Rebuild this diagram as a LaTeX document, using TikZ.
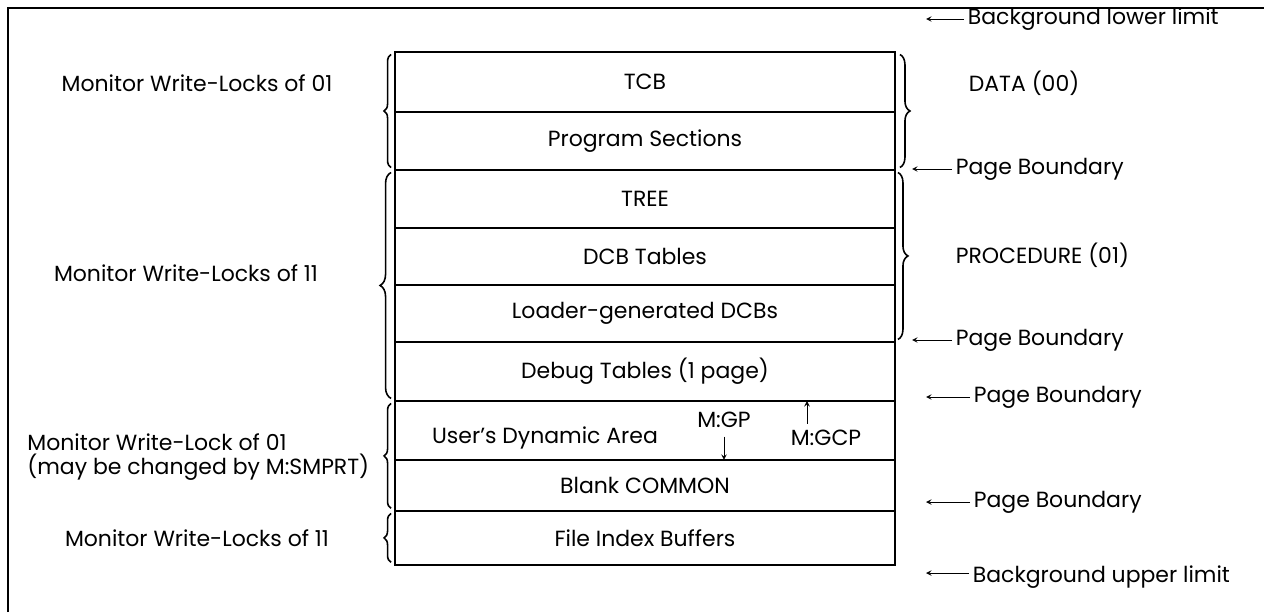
\documentclass[tikz,border=0pt]{standalone}
\usepackage{fontspec}
\setmainfont{Poppins}
\usetikzlibrary{positioning,decorations.pathreplacing}

\begin{document}
\begin{tikzpicture}[x=0.02cm,y=-0.02cm,>=stealth,
    font=\fontsize{12.5}{14}\selectfont,
    cell/.style={draw,line width=1.2pt,minimum width=10cm,inner sep=0pt,outer sep=0pt},
    lbl/.style={inner sep=2pt,anchor=west},
    lbrace/.style={decorate,decoration={brace,amplitude=0.14cm},line width=0.9pt},
    rbrace/.style={decorate,decoration={brace,amplitude=0.2cm},line width=0.9pt}]
  \useasboundingbox (0,0) rectangle (1264,612);
  % frame
  \draw[line width=1.2pt] (8,612) -- (8,8) -- (1264,8);

  % memory layout
  \node[cell,minimum height=1.2cm,anchor=north] (tcb) at (645,52) {TCB};
  \node[cell,minimum height=1.16cm,below=0pt of tcb] (progsec) {Program Sections};
  \node[cell,minimum height=1.16cm,below=0pt of progsec] (tree) {TREE};
  \node[cell,minimum height=1.14cm,below=0pt of tree] (dcbtab) {DCB Tables};
  \node[cell,minimum height=1.14cm,below=0pt of dcbtab] (ldrdcb) {Loader-generated DCBs};
  \node[cell,minimum height=1.18cm,below=0pt of ldrdcb] (dbgtab) {Debug Tables (1 page)};
  \node[cell,minimum height=1.18cm,below=0pt of dbgtab] (dynarea) {};
  \node[cell,minimum height=1.02cm,below=0pt of dynarea] (blankcom) {Blank COMMON};
  \node[cell,minimum height=1.08cm,below=0pt of blankcom] (fib) {File Index Buffers};

  \node (dyntext) at (545,438) {User's Dynamic Area};
  \node (mgp) at (724,420) {M:GP};
  \node (mgcp) at (826,438) {M:GCP};
  \draw[->] ([yshift=-0.05cm]mgp.south) -- (mgp.south |- blankcom.north);
  \draw[->] ([xshift=-0.38cm]mgcp.north) -- ([xshift=-0.38cm]mgcp.north |- dynarea.north);

  % left braces
  \draw[lbrace] ([xshift=-0.08cm,yshift=0.05cm]progsec.south west) -- ([xshift=-0.08cm,yshift=-0.05cm]tcb.north west);
  \draw[lbrace,decoration={amplitude=0.22cm}] ([xshift=-0.08cm,yshift=0.05cm]dbgtab.south west) -- ([xshift=-0.08cm,yshift=-0.05cm]tree.north west);
  \draw[lbrace] ([xshift=-0.08cm,yshift=0.05cm]blankcom.south west) -- ([xshift=-0.08cm,yshift=-0.05cm]dynarea.north west);
  \draw[lbrace] ([xshift=-0.08cm,yshift=0.05cm]fib.south west) -- ([xshift=-0.08cm,yshift=-0.05cm]fib.north west);

  % right braces
  \draw[rbrace] ([xshift=0.1cm,yshift=-0.05cm]tcb.north east) -- ([xshift=0.1cm,yshift=0.05cm]progsec.south east);
  \draw[rbrace] ([xshift=0.06cm,yshift=-0.05cm]tree.north east) -- ([xshift=0.06cm,yshift=0.05cm]ldrdcb.south east);

  % left labels
  \node (wl01) at (197,83) {Monitor Write-Locks of 01};
  \node (wl11) at (186,273) {Monitor Write-Locks of 11};
  \node[align=left,anchor=west,inner sep=0pt] (wlsmprt) at (27,457) {Monitor Write-Lock of 01\\(may be changed by M:SMPRT)};
  \node (wlfib) at (197,538) {Monitor Write-Locks of 11};

  % right labels
  \node[lbl] (bglow) at (964,19) {Background lower limit};
  \node[lbl] (data) at (965,83) {DATA (00)};
  \node[lbl] (pb1) at (952,169) {Page Boundary};
  \node[lbl] (proc) at (952,255) {PROCEDURE (01)};
  \node[lbl] (pb2) at (952,340) {Page Boundary};
  \node[lbl] (pb3) at (970,397) {Page Boundary};
  \node[lbl] (pb4) at (970,502) {Page Boundary};
  \node[lbl] (bgup) at (969,577) {Background upper limit};

  \coordinate (bglowend) at (926,19);
  \coordinate (pb1end) at (912,169);
  \coordinate (pb2end) at (912,340);
  \coordinate (pb3end) at (926,397);
  \coordinate (pb4end) at (926,502);
  \coordinate (bgupend) at (926,573);
  \draw[->] (bglow.west) -- (bglowend);
  \draw[->] (pb1.west) -- (pb1end);
  \draw[->] (pb2.west) -- (pb2end);
  \draw[->] (pb3.west) -- (pb3end);
  \draw[->] (pb4.west) -- (pb4end);
  \draw[->] (bgup.west |- bgupend) -- (bgupend);
\end{tikzpicture}
\end{document}
